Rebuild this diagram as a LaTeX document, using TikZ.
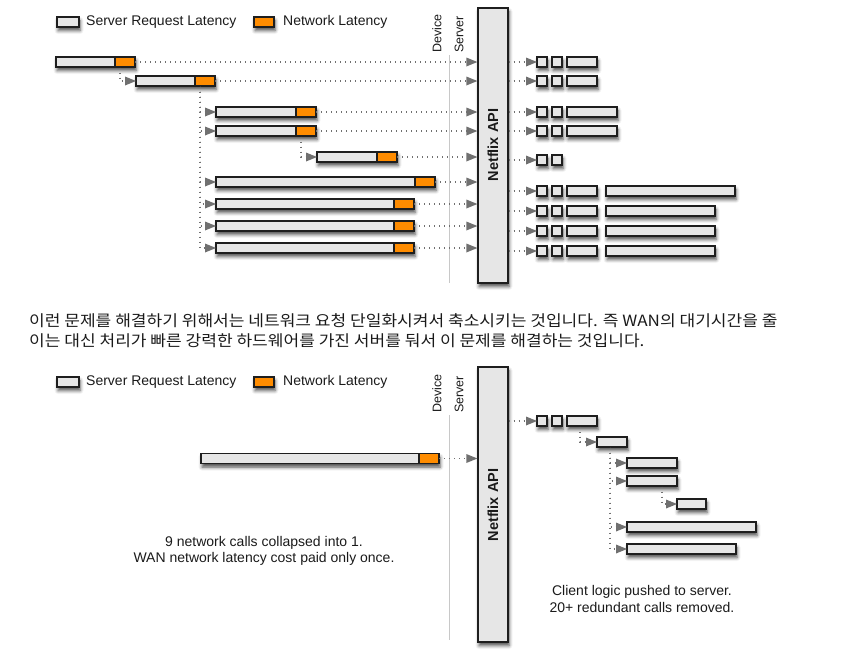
\documentclass[tikz,border=0pt]{standalone}
\usepackage{fontspec}
\setmainfont{Liberation Sans}
\newfontfamily\krfont[FakeStretch=1.1]{Noto Sans CJK KR}
\usetikzlibrary{arrows.meta,shadows.blur,calc}
\definecolor{boxgray}{HTML}{E6E6E6}
\definecolor{netorange}{HTML}{FF8C00}
\definecolor{arrgray}{HTML}{707070}
\definecolor{edgec}{HTML}{1E1E1E}
\definecolor{txtc}{HTML}{1A1A1A}
\definecolor{linegray}{HTML}{C8C8C8}
\tikzset{
  shad/.style={blur shadow={shadow xshift=1pt,shadow yshift=-3.5pt,shadow blur radius=3.5pt,shadow opacity=70}},
  bx/.style={draw=edgec,line width=1.3pt,minimum height=10pt,inner sep=0pt,outer sep=0pt},
  srv/.style={bx,fill=boxgray,anchor=west,shad},
  net/.style={bx,fill=netorange,anchor=east,minimum width=20pt},
  sq/.style={bx,fill=boxgray,anchor=west,minimum width=10pt,shad},
  conn/.style={draw=arrgray,line width=1.3pt,dash pattern=on 1.4pt off 3.6pt,-{Triangle[length=11pt,width=9pt,fill=arrgray,line width=0pt,sep=0pt]}},
  api/.style={draw=edgec,line width=1.3pt,fill=boxgray,minimum width=30pt,minimum height=275pt,inner sep=0pt,shad},
  apitxt/.style={rotate=90,font=\bfseries\fontsize{14.5}{16}\selectfont,text=txtc},
  lab/.style={font=\fontsize{14}{16}\selectfont,text=txtc,anchor=west,inner sep=0pt},
  side/.style={rotate=90,font=\fontsize{12.5}{14}\selectfont,text=txtc,anchor=west,inner sep=0pt},
  note/.style={font=\fontsize{14}{16.5}\selectfont,text=txtc,align=center,inner sep=0pt},
  kr/.style={font=\krfont\fontsize{15.5}{20}\selectfont,text=txtc,anchor=west,inner sep=0pt},
  sep/.style={draw=linegray,line width=0.8pt},
}
\begin{document}
\begin{tikzpicture}[x=1pt,y=-1pt]
\useasboundingbox (0,0) rectangle (865,654);
%================ TOP =================
\node[sq,minimum width=22pt] (lg1) at (57,22) {};
\node[lab] (lgt1) at (86,22) {Server Request Latency};
\node[bx,fill=netorange,anchor=west,minimum width=20pt,shad] (lg2) at (254,22) {};
\node[lab] (lgt2) at (283,22) {Network Latency};
\node[side] (dev) at (437,53) {Device};
\node[side] (srvl) at (459,53) {Server};
\coordinate (ln1) at (449,55);
\coordinate (ln2) at (449,283);
\draw[sep] (ln1) -- (ln2);
\node[api] (apiA) at (493,145.5) {};
\node[apitxt] (apiAt) at (493,145) {Netflix API};
\node[srv,minimum width=79pt]  (r1) at (56,62) {};  \node[net] (n1) at (r1.east) {};
\node[srv,minimum width=79pt]  (r2) at (136,81) {}; \node[net] (n2) at (r2.east) {};
\node[srv,minimum width=100pt] (r3) at (216,112) {};\node[net] (n3) at (r3.east) {};
\node[srv,minimum width=100pt] (r4) at (216,131) {};\node[net] (n4) at (r4.east) {};
\node[srv,minimum width=80pt]  (r5) at (317,157) {};\node[net] (n5) at (r5.east) {};
\node[srv,minimum width=219pt] (r6) at (216,182) {};\node[net] (n6) at (r6.east) {};
\node[srv,minimum width=198pt] (r7) at (216,204) {};\node[net] (n7) at (r7.east) {};
\node[srv,minimum width=198pt] (r8) at (216,226) {};\node[net] (n8) at (r8.east) {};
\node[srv,minimum width=198pt] (r9) at (216,248) {};\node[net] (n9) at (r9.east) {};
\foreach \i in {1,...,9} {\draw[conn] (n\i.east) -- (n\i.east -| apiA.west);}
\coordinate (c1) at (120,67.5);
\coordinate (c2) at (200,86.5);
\coordinate (c3) at (301,136.5);
\draw[conn] (c1) |- (r2.west);
\foreach \i in {3,4,6,7,8,9} {\draw[conn] (c2) |- (r\i.west);}
\draw[conn] (c3) |- (r5.west);
\foreach \i/\y/\w in {1/62/30,2/81/30,3/112/50,4/131/50} {
  \node[sq] (a\i) at (537,\y) {};
  \node[sq] (b\i) at (552,\y) {};
  \node[srv,minimum width=\w pt] (d\i) at (567,\y) {};
  \draw[conn] (a\i.west -| apiA.east) -- (a\i.west);
}
\node[sq] (a5) at (537,160) {};
\node[sq] (b5) at (552,160) {};
\draw[conn] (a5.west -| apiA.east) -- (a5.west);
\foreach \i/\y/\w in {6/191/129,7/211/109,8/231/109,9/251/109} {
  \node[sq] (a\i) at (537,\y) {};
  \node[sq] (b\i) at (552,\y) {};
  \node[srv,minimum width=30pt] (d\i) at (567,\y) {};
  \node[srv,minimum width=\w pt] (e\i) at (606,\y) {};
  \draw[conn] (a\i.west -| apiA.east) -- (a\i.west);
}
%================ TEXT =================
\node[kr] (k1) at (29,321) {이런 문제를 해결하기 위해서는 네트워크 요청 단일화시켜서 축소시키는 것입니다. 즉 WAN의 대기시간을 줄};
\node[kr] (k2) at (29,341) {이는 대신 처리가 빠른 강력한 하드웨어를 가진 서버를 둬서 이 문제를 해결하는 것입니다.};
%================ BOTTOM =================
\node[sq,minimum width=22pt] (blg1) at (57,382) {};
\node[lab] (blgt1) at (86,382) {Server Request Latency};
\node[bx,fill=netorange,anchor=west,minimum width=20pt,shad] (blg2) at (254,382) {};
\node[lab] (blgt2) at (283,382) {Network Latency};
\node[side] (bdev) at (437,413) {Device};
\node[side] (bsrvl) at (459,413) {Server};
\coordinate (bln1) at (449,415);
\coordinate (bln2) at (449,640);
\draw[sep] (bln1) -- (bln2);
\node[api] (apiB) at (493,504.5) {};
\node[apitxt] (apiBt) at (493,505) {Netflix API};
\node[srv,minimum width=238pt] (R) at (201,458.5) {};\node[net] (N) at (R.east) {};
\draw[conn] (N.east) -- (N.east -| apiB.west);
\node[sq] (ba) at (537,421) {};
\node[sq] (bb) at (552,421) {};
\node[srv,minimum width=30pt] (bc) at (567,421) {};
\draw[conn] (ba.west -| apiB.east) -- (ba.west);
\node[srv,minimum width=30pt] (q2) at (597,442) {};
\node[srv,minimum width=50pt] (q3) at (627,463) {};
\node[srv,minimum width=50pt] (q4) at (627,481) {};
\node[srv,minimum width=29pt] (q5) at (677,504) {};
\node[srv,minimum width=129pt] (q6) at (627,527) {};
\node[srv,minimum width=109pt] (q7) at (627,549) {};
\coordinate (bc1) at (580,426.5);
\coordinate (bc2) at (610,447.5);
\coordinate (bc3) at (662,486.5);
\draw[conn] (bc1) |- (q2.west);
\foreach \i in {3,4,6,7} {\draw[conn] (bc2) |- (q\i.west);}
\draw[conn] (bc3) |- (q5.west);
\node[note] (t1) at (264,551) {9 network calls collapsed into 1.\\WAN network latency cost paid only once.};
\node[note] (t2) at (642,599) {Client logic pushed to server.\\20+ redundant calls removed.};
\end{tikzpicture}
\end{document}
